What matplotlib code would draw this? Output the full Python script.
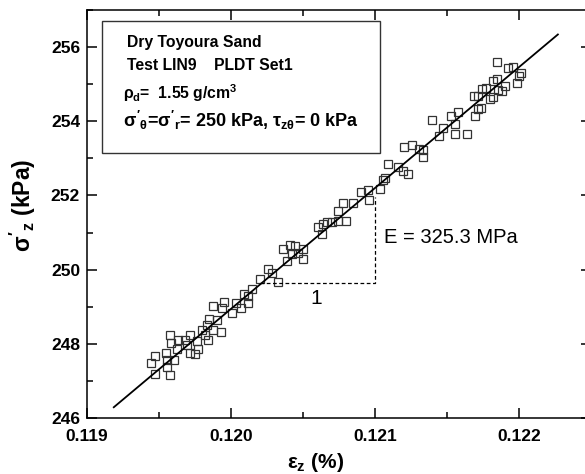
import matplotlib
matplotlib.use('Agg')
from matplotlib import pyplot as plt
from matplotlib.patches import Rectangle
from matplotlib.ticker import MultipleLocator, FormatStrFormatter

# measured points (axial strain %, vertical effective stress kPa)
strain = [
    0.119472, 0.119444, 0.119472, 0.119576, 0.119549, 0.119558, 0.119576,
    0.119581, 0.119634, 0.119623, 0.119604, 0.119553, 0.119681, 0.119692,
    0.119715, 0.119715, 0.119750, 0.119766, 0.119773, 0.119797, 0.119831,
    0.119820, 0.119847, 0.119842, 0.119877, 0.119900, 0.119928, 0.119873,
    0.119953, 0.119935, 0.120009, 0.120035, 0.120067, 0.120090, 0.120120,
    0.120120, 0.120144, 0.120201, 0.120255, 0.120283, 0.120328,
    0.120359, 0.120410, 0.120444, 0.120498, 0.120467, 0.120421, 0.120391,
    0.120502, 0.120606, 0.120637, 0.120630, 0.120665, 0.120699, 0.120745,
    0.120796, 0.120776, 0.120745, 0.120849, 0.120901, 0.120953, 0.120960,
    0.121035, 0.121058, 0.121070, 0.121092, 0.121162,
    0.121197, 0.121231, 0.121201, 0.121255, 0.121308, 0.121336, 0.121331,
    0.121394, 0.121447, 0.121474, 0.121526, 0.121556, 0.121556, 0.121578,
    0.121637, 0.121694, 0.121688, 0.121717, 0.121734, 0.121717, 0.121741,
    0.121771, 0.121799, 0.121822, 0.121822, 0.121850, 0.121856, 0.121880,
    0.121850, 0.121903, 0.121926, 0.121956, 0.121984, 0.122012, 0.122000,
]
stress = [
    247.67, 247.47, 247.18, 247.17, 247.74, 247.56, 248.23,
    248.01, 248.11, 247.87, 247.56, 247.38, 248.09, 247.97,
    248.23, 247.76, 247.72, 248.07, 247.87, 248.37, 248.50,
    248.23, 248.68, 248.09, 248.37, 248.65, 248.32, 249.01,
    249.13, 248.97, 248.83, 249.09, 248.97, 249.35, 249.28,
    249.10, 249.49, 249.75, 250.03, 249.91, 249.68,
    250.56, 250.66, 250.64, 250.56, 250.44, 250.43, 250.24,
    250.29, 251.15, 251.24, 250.97, 251.28, 251.28, 251.31,
    251.31, 251.79, 251.58, 251.80, 252.09, 252.15, 251.89,
    252.18, 252.41, 252.47, 252.86, 252.77,
    252.66, 252.59, 253.30, 253.35, 253.25, 253.03, 253.23,
    254.04, 253.61, 253.81, 254.15, 253.93, 253.67, 254.24,
    253.67, 254.15, 254.68, 254.68, 254.37, 254.33, 254.86,
    254.90, 254.59, 254.66, 255.09, 255.13, 254.83, 254.81,
    255.60, 254.95, 255.44, 255.47, 255.04, 255.30, 255.21,
]

# linear fit
fit_strain = [0.119186, 0.122270]
fit_stress = [246.29, 256.34]

# slope triangle
tri_strain = [0.120201, 0.121000, 0.121000]
tri_stress = [249.63, 249.63, 251.95]

matplotlib.rcParams.update({
    'font.family': 'Liberation Sans',
    'font.weight': 'bold',
    'axes.labelweight': 'bold',
    'mathtext.fontset': 'custom',
    'mathtext.rm': 'Liberation Sans:bold',
    'mathtext.it': 'Liberation Sans:bold',
    'mathtext.bf': 'Liberation Sans:bold',
    'axes.linewidth': 1.1,
})

W, H = 585, 474
fig = plt.figure(figsize=(W / 100, H / 100), dpi=100)
ax = fig.add_axes([87 / W, (H - 418) / H, 504 / W, 408 / H])

ax.plot(strain, stress, 's', ms=5.3, mfc='none', mec='#333333', mew=0.9)
ax.plot(fit_strain, fit_stress, '-', color='black', lw=1.3)
ax.plot(tri_strain, tri_stress, '--', color='black', lw=0.9, dashes=(3, 2))

ax.text(0.12059, 249.23, '1', fontsize=15, fontweight='normal',
        ha='center', va='center')
ax.text(0.12106, 250.87, 'E = 325.3 MPa', fontsize=14.5,
        fontweight='normal', ha='left', va='center')

ax.set_xlim(0.119, 0.1225)
ax.set_ylim(246, 257)
ax.xaxis.set_major_locator(MultipleLocator(0.001))
ax.xaxis.set_minor_locator(MultipleLocator(0.0005))
ax.yaxis.set_major_locator(MultipleLocator(2))
ax.yaxis.set_minor_locator(MultipleLocator(1))
ax.xaxis.set_major_formatter(FormatStrFormatter('%.3f'))
ax.tick_params(which='both', direction='in', top=True, right=True,
               labelsize=12.5, width=1.1)
ax.tick_params(which='major', length=7, pad=5)
ax.tick_params(which='minor', length=4, right=False)
ax.tick_params(axis='x', which='major', pad=8)

ax.set_xlabel(r'$\varepsilon_z$ (%)', fontsize=15)
ax.xaxis.set_label_coords((316 - 87) / 504, -0.08)
ax.set_ylabel(r"$\sigma'_z$ (kPa)", fontsize=16.5)
ax.yaxis.set_label_coords(-0.098, 0.52)

# info box
fig.patches.append(Rectangle((102 / W, 1 - 153 / H), 278 / W, 132 / H,
                             transform=fig.transFigure, fill=False,
                             edgecolor='#333333', lw=1.0))
fig.text(127 / W, 1 - 42 / H, 'Dry Toyoura Sand', fontsize=11.3, va='center')
fig.text(127 / W, 1 - 65 / H, 'Test LIN9    PLDT Set1', fontsize=11.3,
         va='center')
fig.text(123 / W, 1 - 93 / H, r'$\rho_d$=  1.55 g/cm$^3$', fontsize=11.3,
         va='center')
fig.text(123 / W, 1 - 120 / H,
         r"$\sigma'_\theta$=$\sigma'_r$= 250 kPa, $\tau_{z\theta}$= 0 kPa",
         fontsize=13, va='center')

fig.savefig('out.png', dpi=100)
